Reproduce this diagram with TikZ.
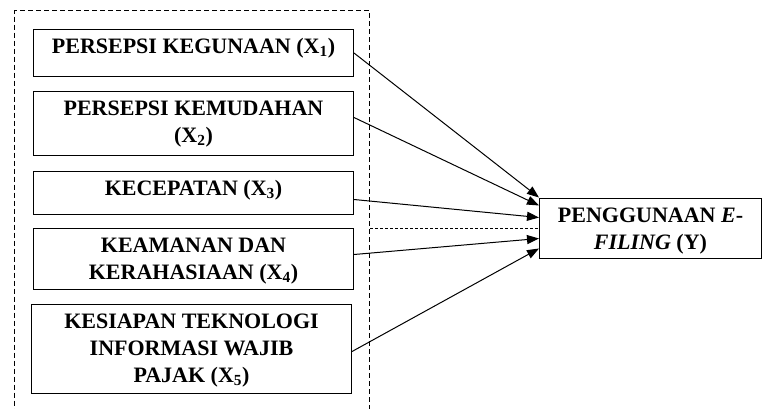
\documentclass[tikz,border=0pt]{standalone}
\usepackage{fontspec}
\setmainfont{Liberation Serif}
\usetikzlibrary{arrows.meta}
\newcommand{\boxtext}[3]{\begin{minipage}[c][#2][t]{#1}\centering\fontsize{22}{27}\selectfont\bfseries\rule{0pt}{24pt}#3\end{minipage}}
\begin{document}
\begin{tikzpicture}[x=1pt,y=-1pt,
  varbox/.style={draw,line width=1pt,inner sep=0pt,anchor=north west},
  link/.style={line width=1pt,-{Triangle[length=12pt,width=9pt]}},
  groupbox/.style={draw,dash pattern=on 5pt off 3pt,line width=1pt,inner sep=0pt,anchor=north west,minimum width=355pt,minimum height=420pt}]
\useasboundingbox (0,0) rectangle (763,408);
\node[groupbox] (cont) at (14,10) {};
\node[varbox] (b1) at (33,29) {\boxtext{320pt}{47pt}{PERSEPSI KEGUNAAN (X\textsubscript{1})}};
\node[varbox] (b2) at (33,91) {\boxtext{320pt}{64pt}{PERSEPSI KEMUDAHAN\\(X\textsubscript{2})}};
\node[varbox] (b3) at (33,171) {\boxtext{320pt}{43pt}{KECEPATAN (X\textsubscript{3})}};
\node[varbox] (b4) at (33,228) {\boxtext{320pt}{61pt}{KEAMANAN DAN\\KERAHASIAAN (X\textsubscript{4})}};
\node[varbox] (b5) at (31,304) {\boxtext{320pt}{89pt}{KESIAPAN TEKNOLOGI\\INFORMASI WAJIB\\PAJAK (X\textsubscript{5})}};
\node[varbox] (y) at (539,198) {\boxtext{222pt}{60pt}{PENGGUNAAN \textit{E}-\\\textit{FILING} (Y)}};
\draw[link] (b1.east) -- ([yshift=31pt]y.west);
\draw[link] ([yshift=6pt]b2.east) -- ([yshift=23pt]y.west);
\draw[link] ([yshift=-6.5pt]b3.east) -- ([yshift=11pt]y.west);
\draw[line width=1pt,dash pattern=on 3pt off 2pt] (cont.east |- y.west) -- (y.west);
\draw[link] ([yshift=4.5pt]b4.east) -- ([yshift=-10pt]y.west);
\draw[link] ([yshift=-2.5pt]b5.east) -- ([yshift=-20pt]y.west);
\end{tikzpicture}
\end{document}
